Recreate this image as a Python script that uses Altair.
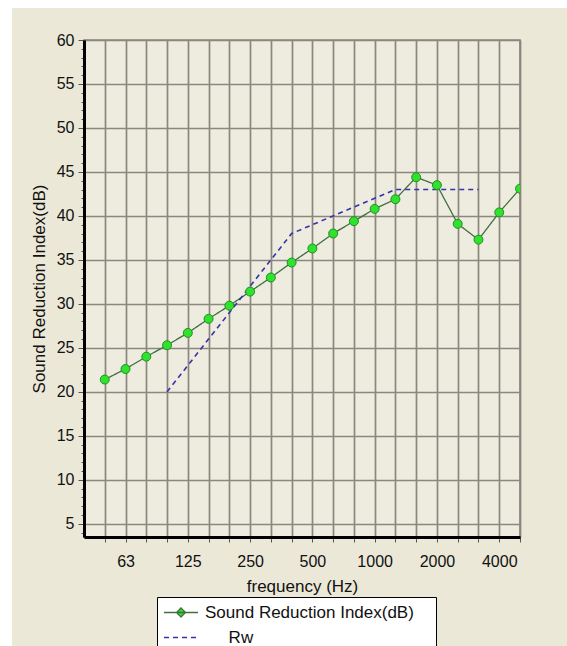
import json
import altair as alt
import pandas as pd

# One-third octave band centre frequencies (Hz)
bands = ["50", "63", "80", "100", "125", "160", "200", "250", "315", "400", "500",
         "630", "800", "1000", "1250", "1600", "2000", "2500", "3150", "4000", "5000"]
# Measured sound reduction index per band (dB)
sri_values = [21.4, 22.6, 24.0, 25.3, 26.7, 28.3, 29.8, 31.4, 33.0, 34.7, 36.3,
              38.0, 39.4, 40.8, 41.9, 44.4, 43.5, 39.1, 37.3, 40.4, 43.1]
# Shifted reference curve used for the single-number rating
rw_bands = ["100", "125", "160", "200", "250", "315", "400", "500",
            "630", "800", "1000", "1250", "1600", "2000", "2500", "3150"]
rw_values = [20, 23, 26, 29, 32, 35, 38, 39, 40, 41, 42, 43, 43, 43, 43, 43]
# Octave labels shown under the frequency axis
tick_labels = ["63", "125", "250", "500", "1000", "2000", "4000"]

SRI = "Sound Reduction Index(dB)"
RW = "Rw"
NB = "\u00a0"     # non-breaking space for label indents
ZW = "\u200b"     # zero-width guard so the indent survives trimming

rows = []
for b, v in zip(bands, sri_values):
    rows.append({"band": bands.index(b) + 1, "freq": b, "series": SRI, "value": v})
for b, v in zip(rw_bands, rw_values):
    rows.append({"band": bands.index(b) + 1, "freq": b, "series": RW, "value": v})
df = pd.DataFrame(rows)

FONT = "Liberation Sans"
GRID = "#8a877f"
SRI_LINE = "#3f6f3f"
SRI_FILL = "#2ee22e"
RW_LINE = "#3434a8"

tick_idx = [bands.index(t) + 1 for t in tick_labels]
x_label_expr = (f"indexof({json.dumps(tick_idx)}, datum.value) >= 0 ? "
                f"{json.dumps(bands)}[datum.value - 1] : ''")

x_enc = alt.X(
    "band:Q",
    scale=alt.Scale(domain=[0, len(bands)], nice=False, zero=False),
    axis=alt.Axis(
        title="frequency (Hz)",
        values=list(range(1, len(bands) + 1)),
        tickCount=200,
        labelExpr=x_label_expr,
        labelOverlap=False,
        grid=True, gridColor=GRID, gridWidth=1.7,
        domainColor="black", domainWidth=3,
        tickColor="#555555", tickSize=5, tickWidth=1,
        labelFont=FONT, labelFontSize=16, labelColor="#111111", labelPadding=11,
        titleFont=FONT, titleFontSize=17, titleFontWeight="normal",
        titleColor="#111111", titlePadding=9,
    ),
)

y_enc = alt.Y(
    "value:Q",
    scale=alt.Scale(domain=[3.5, 60], nice=False, zero=False),
    axis=alt.Axis(
        title=SRI,
        values=list(range(4, 61)),
        tickCount=200,
        labelExpr="datum.value % 5 === 0 ? datum.value : ''",
        labelOverlap=False,
        grid=True, gridColor=GRID, gridWidth=1.7,
        gridOpacity={"condition": {"test": "datum.value % 5 === 0", "value": 1}, "value": 0},
        tickSize={"condition": {"test": "datum.value % 5 === 0", "value": 6}, "value": 3},
        tickColor="#555555", tickWidth=1,
        domainColor="black", domainWidth=3,
        labelFont=FONT, labelFontSize=16, labelColor="#111111", labelPadding=4,
        titleFont=FONT, titleFontSize=17, titleFontWeight="normal",
        titleColor="#111111", titlePadding=8,
    ),
)

is_rw = f"datum.value === '{RW}'"
legend = alt.Legend(
    title=None,
    orient="none", legendX=73, legendY=557,
    fillColor="white", strokeColor="black", padding=7,
    labelFont=FONT, labelFontSize=17, labelColor="#111111", labelLimit=400,
    labelOffset=24, rowPadding=7,
    symbolSize=100, symbolStrokeWidth=1.5,
    symbolType=alt.ExprRef(
        f"{is_rw} ? 'M-1.7,0H5.1' : 'M-1.7,0H5.1M1.7,-0.9L2.6,0L1.7,0.9L0.8,0Z'"),
    symbolFillColor=alt.ExprRef(f"{is_rw} ? 'transparent' : '{SRI_FILL}'"),
    symbolDash=alt.ExprRef(f"{is_rw} ? [4, 3] : [1, 0]"),
    labelExpr=(f"{is_rw} ? '{ZW}{NB * 5}{RW}' : "
               f"datum.value + '{NB * 3}{ZW}'"),
)

base = alt.Chart(df)

lines = base.mark_line(clip=True).encode(
    x=x_enc,
    y=y_enc,
    color=alt.Color("series:N",
                    scale=alt.Scale(domain=[SRI, RW], range=[SRI_LINE, RW_LINE]),
                    legend=legend),
    strokeDash=alt.StrokeDash("series:N",
                              scale=alt.Scale(domain=[SRI, RW], range=[[1, 0], [5, 4]]),
                              legend=None),
    strokeWidth=alt.StrokeWidth("series:N",
                                scale=alt.Scale(domain=[SRI, RW], range=[1.3, 1.6]),
                                legend=None),
)

points = base.transform_filter(alt.datum.series == SRI).mark_point(
    filled=True, shape="circle", size=80, fill=SRI_FILL,
    stroke="#1f8f1f", strokeWidth=1, opacity=1, clip=True,
).encode(x="band:Q", y="value:Q")

# White margin strips around the beige panel
strip_df = pd.DataFrame({"k": [0]})
top_strip = alt.Chart(strip_df).mark_rect(color="white", clip=False).encode(
    x=alt.value(-84), x2=alt.value(483), y=alt.value(-40), y2=alt.value(-32))
left_strip = alt.Chart(strip_df).mark_rect(color="white", clip=False).encode(
    x=alt.value(-84), x2=alt.value(-72), y=alt.value(-40), y2=alt.value(606))

chart = alt.layer(top_strip, left_strip, lines, points).properties(
    width=436, height=497,
    padding={"left": 84, "top": 40, "right": 47, "bottom": 109},
    autosize=alt.AutoSizeParams(type="none"),
    background="#ebe8d8",
).configure_view(
    fill="#eeebdf", stroke=GRID, strokeWidth=1.7,
)

chart.save("out.html", embed_options={"renderer": "svg", "actions": False})
